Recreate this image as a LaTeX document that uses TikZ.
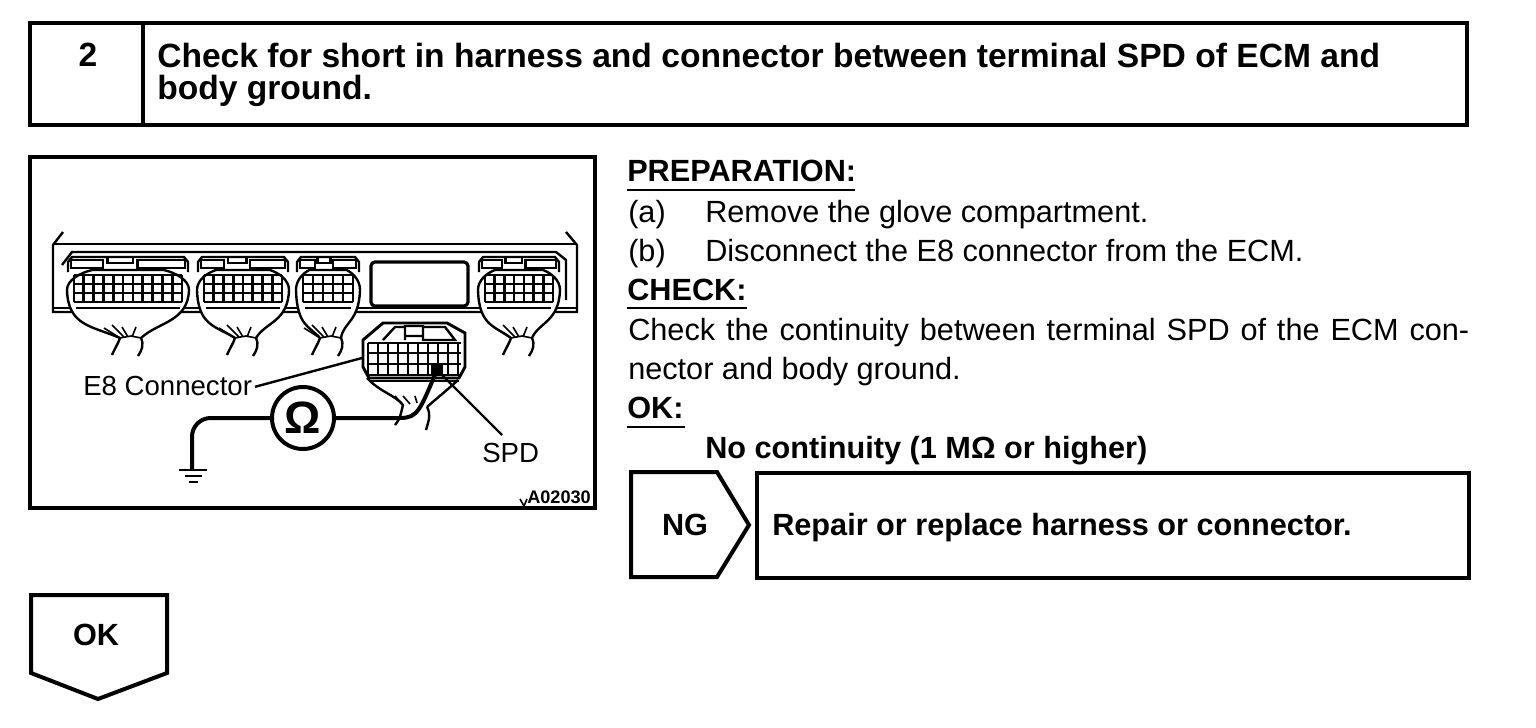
\documentclass[tikz,border=0pt]{standalone}
\usepackage{fontspec}
\setmainfont{Liberation Sans}
\usetikzlibrary{calc,positioning}
\tikzset{
    frameline/.style={draw=black,line width=3pt},
    partline/.style={draw=black,line width=1.8pt},
    fineline/.style={draw=black,line width=1.2pt},
    gridline/.style={draw=black,line width=2pt},
    wireline/.style={draw=black,line width=3pt},
    head/.style={anchor=base west,inner sep=0pt,font=\fontsize{25.2}{28}\selectfont\bfseries},
    txt/.style={anchor=base west,inner sep=0pt,font=\fontsize{23}{26}\selectfont},
    txtb/.style={anchor=base west,inner sep=0pt,font=\fontsize{23}{26}\selectfont\bfseries},
    lbl/.style={anchor=base west,inner sep=0pt,font=\fontsize{20.7}{22}\selectfont},
}
% one plug of the ECM: #1 centre, #2 half width, #3 columns
\newcommand{\ecmplug}[3]{
  \begin{scope}[shift={(#1,0)}]
    \draw[partline,fill=white] (-8,338) .. controls (-#2*0.6,326) and (-#2,326) .. (-#2-1,290)
        .. controls (-#2-1,280) and (-#2*0.8,273) .. (-#2*0.6,270) -- (#2*0.6,270)
        .. controls (#2*0.8,273) and (#2+1,280) .. (#2+1,290)
        .. controls (#2,322) and (#2*0.5,322) .. (13,338);
    \draw[partline] (-#2,272) -- (-#2,262) -- (-#2+4,257) -- (#2-4,257) -- (#2,262) -- (#2,272);
    \draw[partline] (-#2+3,268) -- (-#2+3,260) -- (-#2*0.42,260) -- (-#2*0.42,268) -- cycle;
    \draw[partline] (-#2*0.34,263) -- (-#2*0.34,257) -- (#2*0.08,257) -- (#2*0.08,263) -- cycle;
    \draw[partline] (#2*0.16,268) -- (#2*0.16,260) -- (#2-3,260) -- (#2-3,268) -- cycle;
    \foreach \row in {275,284,293,302} {
      \draw[gridline] (-#2+6,\row) -- (#2-6,\row);
    }
    \foreach \col in {1,...,#3} {
      \draw[gridline] ({-#2+6+(2*#2-12)*(\col-1)/(#3-1)},275) -- ++(0,27);
    }
    \draw[partline] (-#2+8,308) -- (#2-8,308);
    \draw[partline] (-8,338) .. controls (-10,344) and (-13,348) .. (-16,355);
    \draw[partline] (13,338) .. controls (16,345) and (14,350) .. (10,356);
    \draw[fineline] (-8,338) -- (-24,328) (-4,337) -- (-16,325) (0,337) -- (-6,327)
        (4,337) -- (8,327) (-8,338) -- (3,336) -- (13,338);
  \end{scope}
}
\begin{document}
\begin{tikzpicture}[x=0.75pt,y=-0.75pt]
    \useasboundingbox (0,0) rectangle (1536,728);
    % top box
    \draw[frameline] (30,23) rectangle (1467,125);
    \draw[frameline] (143,23) -- (143,125);
    \node (stepno) at (88,55) [inner sep=0pt,font=\fontsize{25.2}{28}\selectfont\bfseries] {2};
    \node (title1) at (157,67) [head] {Check for short in harness and connector between terminal SPD of ECM and};
    \node (title2) at (157,99) [head] {body ground.};
    % picture
    \draw[frameline] (30,157) rectangle (595,508);
    \draw[partline] (63,232) -- (53,245) -- (53,312) -- (577,312) -- (577,245) -- (566,232);
    \draw[partline] (53,244) -- (577,244);
    \draw[partline] (62,265) -- (72,252) -- (556,252) -- (566,260) -- (566,300);
    \draw[fineline] (53,308) -- (577,308);
    \ecmplug{128}{60}{12}
    \ecmplug{243}{45}{9}
    \ecmplug{328}{31}{6}
    \ecmplug{519}{40}{8}
    \draw[draw=black,line width=2.4pt,rounded corners=3pt] (371,262) rectangle (468,306);
    % E8 connector
    \begin{scope}[shift={(415,0)}]
        \draw[partline,fill=white,line width=2.2pt] (-52,367) -- (-52,340) -- (-32,323) -- (32,323) -- (50,333) -- (50,367) -- (44,378) -- (-46,378) -- cycle;
        \foreach \row in {343,353,364,375} {
            \draw[gridline] (-47,\row) -- (46,\row);
        }
        \foreach \col in {-47,-37,...,46} {
            \draw[gridline] (\col,343) -- (\col,375);
        }
        \draw[partline] (-32,340) -- (-20,327) -- (-10,327) -- (-10,340) (-10,326) rectangle (8,336) (8,340) -- (8,327) -- (30,327) -- (40,340) -- cycle;
        \draw[partline] (-44,381) -- (44,381);
        \draw[partline] (-48,378) .. controls (-35,392) and (-20,395) .. (-12,405);
        \draw[partline] (43,380) .. controls (30,392) and (22,398) .. (12,407);
        \draw[partline] (-12,405) .. controls (-14,412) and (-14,418) .. (-20,425);
        \draw[partline] (12,407) .. controls (16,414) and (14,420) .. (11,430);
        \draw[fineline] (-12,405) -- (-20,396) (-5,404) -- (-12,396) (2,403) -- (0,396);
    \end{scope}
    \coordinate (spdpin) at (437,370);
    \fill (431,364) rectangle (443,376);
    \node (meter) at (303,418) [circle,draw=black,line width=3pt,minimum size=46.5pt,inner sep=0pt,font=\fontsize{34}{40}\selectfont\bfseries] {Ω};
    \coordinate (earth) at (192,470);
    \draw[wireline,rounded corners=14pt] (meter.west) -- (192,418) -- (earth);
    \draw[wireline] (meter.east) -- (400,418) .. controls (418,418) and (420,410) .. (spdpin);
    \draw[partline] (179,470) -- (207,470) (185,476) -- (202,476) (189,482) -- (198,482);
    \node (e8lbl) at (83,395) [lbl] {E8 Connector};
    \coordinate (e8end) at (362,358);
    \draw[partline] (e8lbl.east) ++(2pt,-1pt) -- (e8end);
    \node (spdlbl) at (482,462) [lbl] {SPD};
    \coordinate (spdend) at (502,435);
    \draw[partline] (spdpin) -- (spdend);
    \node (figno) at (527,503) [anchor=base west,inner sep=0pt,font=\fontsize{13.6}{15}\selectfont\bfseries] {A02030};
    \draw[fineline] (520,499) -- (524,506) -- (527,499);
    % right text
    \node (prep) at (627,181) [txtb] {PREPARATION:};
    \draw[partline] (627,190) -- (855,190);
    \node (stepa) at (628,222) [txt] {(a)};
    \node (stepat) at (705,222) [txt] {Remove the glove compartment.};
    \node (stepb) at (628,261) [txt] {(b)};
    \node (stepbt) at (705,261) [txt] {Disconnect the E8 connector from the ECM.};
    \node (check) at (627,300) [txtb] {CHECK:};
    \draw[partline] (627,308) -- (747,308);
    \node (chk1) at (628,340) [txt] {\hbox to 630.75pt{Check the continuity between terminal SPD of the ECM con-}};
    \node (chk2) at (628,379) [txt] {nector and body ground.};
    \node (oklbl) at (627,418) [txtb] {OK:};
    \draw[partline] (627,427) -- (685,427);
    \node (okval) at (705,458) [txtb] {No continuity (1 MΩ or higher)};
    % result boxes
    \draw[frameline] (631,472) -- (717,472) -- (749,525) -- (717,577) -- (631,577) -- cycle;
    \node (ngl) at (685,525) [inner sep=0pt,font=\fontsize{23}{26}\selectfont\bfseries] {NG};
    \draw[frameline] (757,473) rectangle (1469,578);
    \node (repair) at (772,535) [txtb] {Repair or replace harness or connector.};
    \draw[frameline] (31,595) -- (167,595) -- (167,673) -- (98,699) -- (31,673) -- cycle;
    \node (okbox) at (96,635) [inner sep=0pt,font=\fontsize{23}{26}\selectfont\bfseries] {OK};
\end{tikzpicture}
\end{document}
